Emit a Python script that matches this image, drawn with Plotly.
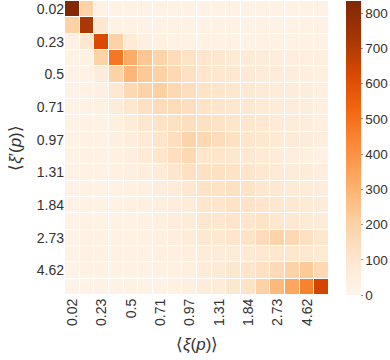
import plotly.graph_objects as go

# axis tick labels (one label every second cell)
tick_labels = ['0.02', '0.23', '0.5', '0.71', '0.97', '1.31', '1.84', '2.73', '4.62']
n_cells = 18
cells = list(range(n_cells))
tick_cells = cells[::2]

# counts, rows top (0.02) -> bottom, columns left -> right
row_00 = [830, 200, 30, 25, 25, 25, 25, 25, 25, 25, 25, 22, 22, 22, 20, 20, 20, 20]
row_01 = [200, 720, 100, 25, 25, 25, 25, 25, 25, 25, 25, 25, 22, 22, 22, 20, 20, 20]
row_02 = [30, 90, 620, 200, 80, 40, 35, 30, 30, 30, 30, 28, 28, 26, 25, 25, 22, 22]
row_03 = [25, 30, 200, 480, 320, 240, 190, 150, 120, 110, 100, 80, 70, 60, 55, 50, 45, 40]
row_04 = [25, 25, 60, 200, 290, 230, 200, 170, 130, 110, 100, 90, 80, 70, 60, 55, 50, 45]
row_05 = [25, 25, 40, 90, 170, 200, 210, 170, 140, 120, 110, 100, 85, 75, 65, 60, 55, 45]
row_06 = [20, 25, 35, 60, 100, 130, 150, 150, 140, 120, 110, 100, 90, 80, 70, 60, 55, 45]
row_07 = [20, 25, 30, 45, 70, 100, 120, 130, 140, 130, 120, 110, 100, 90, 75, 65, 55, 45]
row_08 = [20, 25, 30, 40, 55, 80, 110, 140, 190, 170, 150, 130, 110, 100, 85, 75, 60, 50]
row_09 = [25, 25, 30, 35, 50, 80, 110, 140, 170, 110, 110, 100, 90, 80, 70, 50, 40, 30]
row_10 = [20, 25, 30, 35, 40, 50, 70, 110, 130, 130, 130, 120, 110, 90, 80, 70, 60, 50]
row_11 = [20, 25, 25, 30, 35, 45, 55, 65, 90, 120, 120, 130, 120, 100, 90, 80, 70, 55]
row_12 = [20, 20, 25, 30, 35, 40, 45, 55, 65, 110, 110, 120, 120, 110, 100, 90, 80, 60]
row_13 = [20, 20, 25, 25, 30, 35, 45, 55, 65, 100, 100, 110, 110, 120, 100, 90, 80, 70]
row_14 = [20, 20, 25, 25, 30, 35, 40, 50, 60, 90, 90, 110, 120, 150, 190, 170, 130, 100]
row_15 = [20, 20, 20, 25, 25, 30, 35, 40, 50, 60, 60, 70, 80, 90, 100, 100, 90, 80]
row_16 = [15, 20, 20, 20, 25, 25, 30, 35, 45, 70, 80, 100, 110, 130, 160, 200, 230, 170]
row_17 = [15, 15, 20, 20, 20, 25, 30, 35, 40, 60, 70, 100, 120, 200, 280, 340, 450, 640]

z = [row_00, row_01, row_02, row_03, row_04, row_05, row_06, row_07, row_08,
     row_09, row_10, row_11, row_12, row_13, row_14, row_15, row_16, row_17]

font_col = '#333333'

fig = go.Figure(go.Heatmap(
    z=z,
    x=cells,
    y=cells,
    colorscale='Oranges',
    zmin=0,
    zmax=835,
    xgap=1,
    ygap=1,
    colorbar=dict(
        thickness=15,
        len=1.0,
        lenmode='fraction',
        x=1.064,
        xanchor='left',
        xpad=0,
        ypad=0,
        y=0.5,
        yanchor='middle',
        outlinewidth=0,
        tickvals=[0, 100, 200, 300, 400, 500, 600, 700, 800],
        ticks='outside',
        ticklen=2,
        tickcolor='#999999',
        tickfont=dict(size=13.5, color=font_col),
    ),
))

fig.update_layout(
    width=390,
    height=360,
    margin=dict(l=65, r=61, t=1, b=65, autoexpand=False),
    paper_bgcolor='white',
    plot_bgcolor='white',
    font=dict(family='Arial, Liberation Sans, sans-serif', color=font_col, size=14),
    xaxis=dict(
        tickmode='array',
        tickvals=tick_cells,
        ticktext=tick_labels,
        tickangle=-90,
        showgrid=False,
        zeroline=False,
        ticks='',
        automargin=False,
    ),
    yaxis=dict(
        tickmode='array',
        tickvals=tick_cells,
        ticktext=tick_labels,
        autorange='reversed',
        showgrid=False,
        zeroline=False,
        ticks='',
        automargin=False,
    ),
    annotations=[
        dict(text='⟨<i>ξ</i>(<i>p</i>)⟩', xref='paper', yref='paper',
             x=0.5, y=-0.17, yanchor='middle', xanchor='center',
             showarrow=False, font=dict(size=17)),
        dict(text='⟨<i>ξ</i>′(<i>p</i>)⟩', xref='paper', yref='paper',
             x=-0.19, y=0.5, yanchor='middle', xanchor='center', textangle=-90,
             showarrow=False, font=dict(size=17)),
    ],
)

# the page body has a default 8px margin; drop it so the figure sits at 0,0
fig.write_html('out.html', config={'displayModeBar': False},
               post_script="document.body.style.margin='0px';")
